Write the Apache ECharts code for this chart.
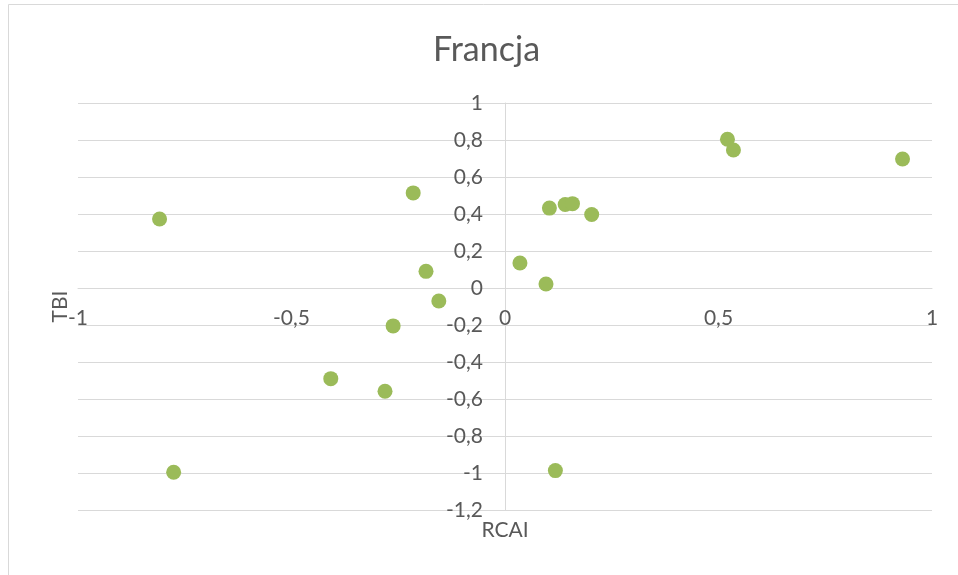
<!DOCTYPE html>
<html>
<head>
<meta charset="utf-8">
<script src="https://cdn.jsdelivr.net/npm/echarts@6/dist/echarts.min.js"></script>
<style>html,body{margin:0;padding:0;background:#fff}#c{width:958px;height:575px}</style>
</head>
<body>
<div id="c"></div>
<script>
const chartTitle = 'Francja';
const xName = 'RCAI';
const yName = 'TBI';
const rcai = [-0.809, -0.215, -0.185, -0.155, -0.262, -0.408, -0.281, -0.776, 0.118, 0.521, 0.535, 0.931, 0.104, 0.141, 0.158, 0.203, 0.035, 0.096];
const tbi  = [0.373, 0.514, 0.090, -0.070, -0.205, -0.490, -0.558, -0.996, -0.987, 0.804, 0.746, 0.697, 0.432, 0.451, 0.456, 0.397, 0.135, 0.022];
const xTicks = {min: -1, max: 1, interval: 0.5};
const yTicks = {min: -1.2, max: 1, interval: 0.2};

const points = rcai.map((x, i) => [x, tbi[i]]);
const fmt = v => String(Number(v.toFixed(1))).replace('.', ',');
const FONT = 'Lato';
const TXT = '#595959';
const GRID = '#d9d9d9';

// grid geometry
const G = {left: 78, right: 26, top: 103, bottom: 65, w: 958, h: 575};
const plotW = G.w - G.left - G.right;
const plotH = G.h - G.top - G.bottom;
// shift axes onto the zero lines (derived from the axis ranges)
const yAxisOffset = -plotW * (0 - xTicks.min) / (xTicks.max - xTicks.min);
const xAxisOffset = -plotH * (0 - yTicks.min) / (yTicks.max - yTicks.min);

const chart = echarts.init(document.getElementById('c'), null, {renderer: 'canvas'});
chart.setOption({
  backgroundColor: '#fff',
  animation: false,
  title: {
    text: chartTitle, left: 428, top: 28,
    textStyle: {fontFamily: FONT, fontSize: 34, fontWeight: 'normal', color: TXT}
  },
  graphic: [{
    type: 'rect', shape: {x: 8.5, y: 4.5, width: 1200, height: 1200},
    style: {fill: 'none', stroke: GRID, lineWidth: 1}, silent: true, z: -1
  }],
  grid: {left: G.left, right: G.right, top: G.top, bottom: G.bottom, containLabel: false, outerBoundsMode: 'none'},
  xAxis: {
    type: 'value', min: xTicks.min, max: xTicks.max, interval: xTicks.interval,
    position: 'bottom', offset: xAxisOffset,
    name: xName, nameLocation: 'middle', nameGap: 232,
    nameTextStyle: {fontFamily: FONT, fontSize: 21, color: TXT},
    axisLine: {show: true, onZero: false, lineStyle: {color: GRID, width: 1}},
    axisTick: {show: false},
    splitLine: {show: false},
    axisLabel: {formatter: fmt, fontFamily: FONT, fontSize: 21, color: TXT, margin: 20, showMinLabel: true, showMaxLabel: true, hideOverlap: false}
  },
  yAxis: {
    type: 'value', min: yTicks.min, max: yTicks.max, interval: yTicks.interval,
    position: 'left', offset: yAxisOffset,
    name: yName, nameLocation: 'middle', nameGap: 434,
    nameTextStyle: {fontFamily: FONT, fontSize: 21, color: TXT},
    axisLine: {show: true, onZero: false, lineStyle: {color: GRID, width: 1}},
    axisTick: {show: false},
    splitLine: {show: true, lineStyle: {color: GRID, width: 1}},
    axisLabel: {formatter: fmt, fontFamily: FONT, fontSize: 21, color: TXT, margin: 22, showMinLabel: true, showMaxLabel: true, hideOverlap: false}
  },
  series: [{
    type: 'scatter', data: points, symbol: 'circle', symbolSize: 15,
    itemStyle: {color: '#9bbb59', opacity: 1}
  }]
});
</script>
</body>
</html>
